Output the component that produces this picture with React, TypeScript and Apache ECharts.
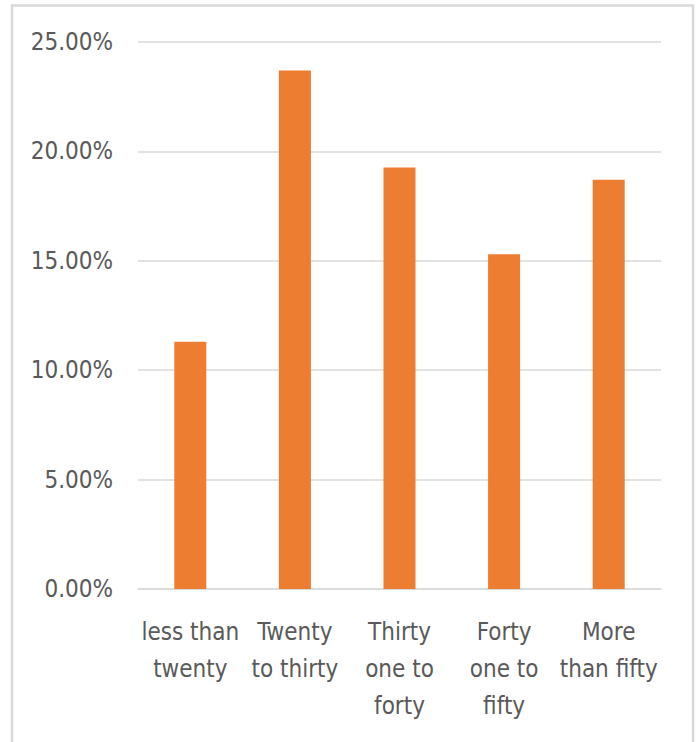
import React, { useEffect, useRef } from "react";
import * as echarts from "echarts";

const categories = [
  "less than\ntwenty",
  "Twenty\nto thirty",
  "Thirty\none to\nforty",
  "Forty\none to\nfifty",
  "More\nthan fifty",
];
const shares = [11.3, 23.7, 19.26, 15.3, 18.7];
const yMax = 25;
const yStep = 5;

const FONT = '"DejaVu Sans Condensed", "Liberation Sans", sans-serif';

export default function App() {
  const ref = useRef<HTMLDivElement>(null);

  useEffect(() => {
    if (!ref.current) return;
    const chart = echarts.init(ref.current, undefined, { renderer: "svg" });
    chart.setOption({
      animation: false,
      backgroundColor: "#ffffff",
      graphic: [
        {
          type: "rect",
          shape: { x: 12, y: 5.5, width: 681, height: 800 },
          style: { fill: "none", stroke: "#d9d9d9", lineWidth: 2.5 },
          silent: true,
        },
      ],
      grid: { left: 138, right: 38, top: 42, bottom: 153 },
      xAxis: {
        type: "category",
        data: categories,
        axisLine: { lineStyle: { color: "#d9d9d9", width: 1.5 } },
        axisTick: { show: false },
        axisLabel: {
          color: "#595959",
          fontFamily: FONT,
          fontSize: 24,
          lineHeight: 37,
          margin: 24,
          interval: 0,
          verticalAlign: "top",
        },
      },
      yAxis: {
        type: "value",
        min: 0,
        max: yMax,
        interval: yStep,
        axisLine: { show: false },
        axisTick: { show: false },
        splitLine: { lineStyle: { color: "#d9d9d9", width: 1.5 } },
        axisLabel: {
          color: "#595959",
          fontFamily: FONT,
          fontSize: 24,
          margin: 25,
          formatter: (v: number) => v.toFixed(2) + "%",
        },
      },
      series: [
        {
          type: "bar",
          data: shares,
          barWidth: 32,
          itemStyle: { color: "#ED7D31" },
        },
      ],
    });
    return () => chart.dispose();
  }, []);

  return (
    <div
      ref={ref}
      style={{ position: "fixed", left: 0, top: 0, width: 699, height: 742 }}
    />
  );
}
